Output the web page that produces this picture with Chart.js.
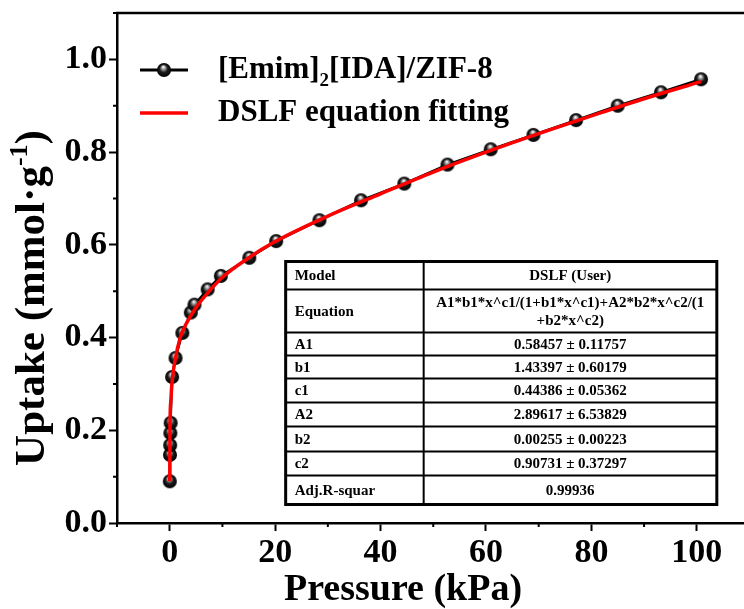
<!DOCTYPE html>
<html>
<head>
<meta charset="utf-8">
<script src="https://cdn.jsdelivr.net/npm/chart.js@4.4.1/dist/chart.umd.min.js"></script>
<style>
  html, body { margin: 0; padding: 0; background: #fff; overflow: hidden; }
  #wrap { position: relative; width: 744px; height: 609px; overflow: hidden; }
  #chart { position: absolute; left: 0; top: 0; }
</style>
</head>
<body>
<div id="wrap"><canvas id="chart" width="759" height="609"></canvas></div>
<script>
const pressure = [0.01, 0.05, 0.08, 0.12, 0.18, 0.45, 1.1, 2.4, 4.0, 4.7, 7.2, 9.7, 15.1, 20.2, 28.4, 36.3, 44.5, 52.7, 60.9, 69.0, 77.1, 85.0, 93.2, 100.8];
const uptake = [0.090, 0.147, 0.168, 0.194, 0.216, 0.315, 0.356, 0.410, 0.454, 0.471, 0.504, 0.533, 0.572, 0.608, 0.653, 0.696, 0.732, 0.773, 0.806, 0.837, 0.869, 0.900, 0.929, 0.957];

// red fitted curve
const fitPressure = [0.01, 0.05, 0.2, 0.5, 1, 2, 3, 5, 7.5, 10, 15, 20, 30, 40, 50, 60, 70, 80, 90, 100.8];
const fitUptake = [0.090, 0.200, 0.262, 0.310, 0.350, 0.400, 0.427, 0.465, 0.500, 0.530, 0.572, 0.607, 0.662, 0.710, 0.757, 0.800, 0.840, 0.878, 0.915, 0.952];

const seriesNames = ['[Emim]', '2', '[IDA]/ZIF-8', 'DSLF equation fitting'];

const tableRows = [
  ['Model', 'DSLF (User)'],
  ['Equation', 'A1*b1*x^c1/(1+b1*x^c1)+A2*b2*x^c2/(1|+b2*x^c2)'],
  ['A1', '0.58457 \u00b1 0.11757'],
  ['b1', '1.43397 \u00b1 0.60179'],
  ['c1', '0.44386 \u00b1 0.05362'],
  ['A2', '2.89617 \u00b1 6.53829'],
  ['b2', '0.00255 \u00b1 0.00223'],
  ['c2', '0.90731 \u00b1 0.37297'],
  ['Adj.R-squar', '0.99936']
];

const SERIF = '"Liberation Serif", "Times New Roman", serif';

function makeBall(r) {
  const c = document.createElement('canvas');
  const s = Math.ceil(r * 2 + 2);
  c.width = c.height = s;
  const g = c.getContext('2d');
  const cx = s / 2, cy = s / 2;
  const grad = g.createRadialGradient(cx - r * 0.1, cy - r * 0.45, r * 0.05, cx, cy, r);
  grad.addColorStop(0, '#ffffff');
  grad.addColorStop(0.22, '#a0a0a0');
  grad.addColorStop(0.55, '#1c1c1c');
  grad.addColorStop(1, '#000000');
  g.fillStyle = grad;
  g.beginPath();
  g.arc(cx, cy, r, 0, Math.PI * 2);
  g.fill();
  return c;
}
const ball = makeBall(7);

const decorations = {
  id: 'decorations',
  afterDraw(chart) {
    const ctx = chart.ctx;
    const area = chart.chartArea;
    const xs = chart.scales.x, ys = chart.scales.y;
    ctx.save();

    // top frame line
    ctx.strokeStyle = '#000';
    ctx.lineWidth = 2.5;
    ctx.beginPath();
    ctx.moveTo(area.left - 1, area.top);
    ctx.lineTo(area.right + 1, area.top);
    ctx.stroke();

    // minor ticks
    ctx.lineWidth = 2;
    ctx.beginPath();
    xs.ticks.forEach(t => {
      if (Math.round(t.value) % 20 !== 0) {
        const px = xs.getPixelForValue(t.value);
        ctx.moveTo(px, area.bottom);
        ctx.lineTo(px, area.bottom + 4);
      }
    });
    ys.ticks.forEach(t => {
      if (Math.round(t.value * 10) % 2 !== 0) {
        const py = ys.getPixelForValue(t.value);
        ctx.moveTo(area.left, py);
        ctx.lineTo(area.left - 4, py);
      }
    });
    ctx.stroke();

    // axis titles
    ctx.fillStyle = '#000';
    ctx.font = 'bold 38px ' + SERIF;
    ctx.textAlign = 'center';
    ctx.textBaseline = 'alphabetic';
    ctx.fillText('Pressure (kPa)', 403, 600);

    ctx.save();
    ctx.translate(44, 298);
    ctx.rotate(-Math.PI / 2);
    const big = 'bold 43px ' + SERIF, small = 'bold 26px ' + SERIF;
    ctx.font = big;
    const w1 = ctx.measureText('Uptake (mmol\u00b7g').width;
    const w3 = ctx.measureText(')').width;
    ctx.font = small;
    const w2 = ctx.measureText('-1').width;
    let x0 = -(w1 + w2 + w3) / 2;
    ctx.textAlign = 'left';
    ctx.font = big;
    ctx.fillText('Uptake (mmol\u00b7g', x0, 0);
    ctx.font = small;
    ctx.fillText('-1', x0 + w1, -17);
    ctx.font = big;
    ctx.fillText(')', x0 + w1 + w2, 0);
    ctx.restore();

    // legend
    ctx.lineWidth = 3;
    ctx.strokeStyle = '#000';
    ctx.beginPath();
    ctx.moveTo(140, 70); ctx.lineTo(188, 70);
    ctx.stroke();
    ctx.drawImage(ball, 164 - ball.width / 2, 70 - ball.height / 2);
    ctx.strokeStyle = '#ff0000';
    ctx.lineWidth = 3.5;
    ctx.beginPath();
    ctx.moveTo(140, 113); ctx.lineTo(188, 113);
    ctx.stroke();

    ctx.textAlign = 'left';
    ctx.textBaseline = 'middle';
    ctx.font = 'bold 31px ' + SERIF;
    let lx = 218;
    ctx.fillText(seriesNames[0], lx, 70);
    lx += ctx.measureText(seriesNames[0]).width;
    ctx.font = 'bold 19px ' + SERIF;
    ctx.fillText(seriesNames[1], lx, 81);
    lx += ctx.measureText(seriesNames[1]).width;
    ctx.font = 'bold 31px ' + SERIF;
    ctx.fillText(seriesNames[2], lx, 70);
    ctx.fillText(seriesNames[3], 218, 113);

    // parameter table
    const tLeft = xs.getPixelForValue(22), tRight = xs.getPixelForValue(103.8);
    const tTop = ys.getPixelForValue(0.564);
    const colX = tLeft + 138;
    const rowH = [28, 43, 23, 23, 24, 24, 25, 24, 29];
    let yy = tTop;
    const lines = [tTop];
    rowH.forEach(h => { yy += h; lines.push(yy); });
    ctx.fillStyle = '#fff';
    ctx.fillRect(tLeft, tTop, tRight - tLeft, yy - tTop);
    ctx.strokeStyle = '#000';
    ctx.lineWidth = 2;
    ctx.beginPath();
    for (let i = 1; i < lines.length - 1; i++) {
      ctx.moveTo(tLeft, lines[i]); ctx.lineTo(tRight, lines[i]);
    }
    ctx.moveTo(colX, tTop); ctx.lineTo(colX, yy);
    ctx.stroke();
    ctx.lineWidth = 3;
    ctx.strokeRect(tLeft, tTop, tRight - tLeft, yy - tTop);

    ctx.fillStyle = '#000';
    ctx.font = 'bold 15px ' + SERIF;
    ctx.textBaseline = 'middle';
    tableRows.forEach((row, i) => {
      const cy = (lines[i] + lines[i + 1]) / 2 + 1;
      ctx.textAlign = 'left';
      ctx.fillText(row[0], tLeft + 9, cy);
      ctx.textAlign = 'center';
      const parts = row[1].split('|');
      const cx = (colX + tRight) / 2;
      if (parts.length === 1) {
        ctx.fillText(parts[0], cx, cy);
      } else {
        ctx.fillText(parts[0], cx, cy - 9);
        ctx.fillText(parts[1], cx, cy + 9);
      }
    });
    ctx.restore();
  }
};

new Chart(document.getElementById('chart'), {
  type: 'scatter',
  data: {
    datasets: [
      {
        label: 'DSLF equation fitting',
        data: fitPressure.map((p, i) => ({ x: p, y: fitUptake[i] })),
        showLine: true,
        borderColor: '#ff0000',
        borderWidth: 3.5,
        pointRadius: 0,
        cubicInterpolationMode: 'monotone',
        order: 0
      },
      {
        label: '[Emim]2[IDA]/ZIF-8',
        data: pressure.map((p, i) => ({ x: p, y: uptake[i] })),
        showLine: true,
        borderColor: '#000',
        borderWidth: 2.5,
        pointStyle: ball,
        pointRadius: 7,
        order: 1
      }
    ]
  },
  options: {
    responsive: false,
    animation: false,
    devicePixelRatio: 1,
    layout: { padding: { left: 0, right: 4, top: 13, bottom: 0 } },
    plugins: { legend: { display: false }, tooltip: { enabled: false } },
    scales: {
      x: {
        type: 'linear',
        min: -10,
        max: 110,
        border: { color: '#000', width: 2.5 },
        grid: {
          drawOnChartArea: false,
          drawTicks: true,
          tickLength: 8,
          tickWidth: 2,
          tickColor: c => (c.tick && Math.round(c.tick.value) % 20 === 0 ? '#000' : 'rgba(0,0,0,0)')
        },
        ticks: {
          stepSize: 10,
          autoSkip: false,
          maxRotation: 0,
          padding: 2,
          color: '#000',
          font: { family: SERIF, size: 34, weight: 'bold' },
          callback: v => (Math.round(v) % 20 === 0 && v >= 0 && v <= 100 ? String(Math.round(v)) : '')
        },
        afterFit: s => { s.height = 86; s.paddingLeft = 0; s.paddingRight = 0; }
      },
      y: {
        type: 'linear',
        min: 0,
        max: 1.1,
        border: { color: '#000', width: 2.5 },
        grid: {
          drawOnChartArea: false,
          drawTicks: true,
          tickLength: 8,
          tickWidth: 2,
          tickColor: c => (c.tick && Math.round(c.tick.value * 10) % 2 === 0 ? '#000' : 'rgba(0,0,0,0)')
        },
        ticks: {
          stepSize: 0.1,
          autoSkip: false,
          padding: 2,
          color: '#000',
          font: { family: SERIF, size: 34, weight: 'bold' },
          callback: v => (Math.round(v * 10) % 2 === 0 && v <= 1.0001 ? v.toFixed(1) : '')
        },
        afterFit: s => { s.width = 117; s.paddingTop = 0; s.paddingBottom = 0; }
      }
    }
  },
  plugins: [decorations]
});
</script>
</body>
</html>
